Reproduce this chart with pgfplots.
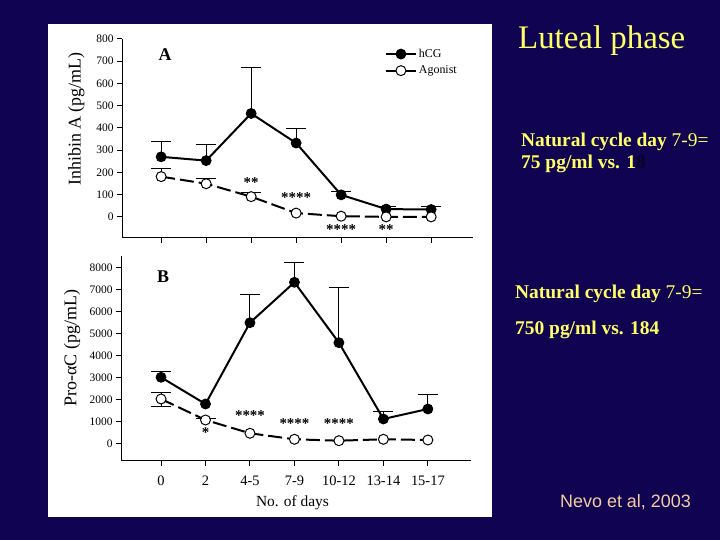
\documentclass[border=0pt]{standalone}
\usepackage{fontspec}
\setmainfont{Liberation Serif}
\newfontfamily\sansf{Liberation Sans}
\usepackage{pgfplots}
\pgfplotsset{compat=1.18}
\definecolor{navy}{RGB}{16,4,82}
\definecolor{slideyellow}{RGB}{255,255,102}
\definecolor{peach}{RGB}{245,205,160}
\definecolor{hiddencol}{RGB}{8,2,40}

% means
\pgfplotstableread{
x y
0 270
1 253
2 465
3 332
4 99
5 35
6 33
}\hcgA
\pgfplotstableread{
x y
0 181
1 149
2 91
3 17
4 3
5 0
6 0
}\agoA
\pgfplotstableread{
x y
0 3000
1 1786
2 5482
3 7318
4 4573
5 1105
6 1559
}\hcgB
\pgfplotstableread{
x y
0 2014
1 1059
2 455
3 182
4 118
5 182
6 150
}\agoB
% upper error bars (points that have one)
\pgfplotstableread{
x y e
0 270 70
1 253 73
2 465 205
3 332 65
4 99 15
5 35 12
6 33 12
}\errhcgA
\pgfplotstableread{
x y e
0 181 35
1 149 22
2 91 20
}\erragoA
\pgfplotstableread{
x y e
0 3000 255
2 5482 1260
3 7318 910
4 4573 2520
5 1105 360
6 1559 680
}\errhcgB
\pgfplotstableread{
x y e
0 2014 290
1 1059 80
}\erragoB
% lower error bar
\pgfplotstableread{
x y e
0 2014 350
}\erragoBlow

\tikzset{sigstar/.style={font=\bfseries\fontsize{15}{15}\selectfont, inner sep=0pt}}

\pgfplotsset{
  panel/.style={
    scale only axis,
    axis x line*=bottom, axis y line*=left,
    axis line style={line width=1bp,-},
    every tick/.style={line width=1bp,black},
    tick align=outside,
    major tick length=5bp,
    xtick={0,...,6},
    ticklabel style={font=\fontsize{11.5}{12}\selectfont},
    /pgf/number format/assume math mode=true,
    /pgf/number format/1000 sep={},
    clip=false,
    legend cell align=left,
    legend image code/.code={\draw[mark repeat=2,mark phase=2,#1] plot coordinates {(0bp,0bp) (15bp,0bp) (30bp,0bp)};},
  },
  hcg/.style={black, line width=2bp, mark=*, mark size=5bp, mark options={solid, fill=black, line width=0.8bp}},
  ago/.style={black, line width=2bp, dash pattern=on 14bp off 5bp, mark=*, mark size=5bp, mark options={solid, fill=white, draw=black, line width=1bp}},
  errs/.style={draw=none, mark=none, forget plot,
    /pgfplots/error bars/y dir=#1, /pgfplots/error bars/y explicit,
    /pgfplots/error bars/error bar style={draw=black, line width=1bp, solid},
    /pgfplots/error bars/error mark options={draw=black, rotate=90, line width=1bp, mark size=10bp}},
  errs/.default=plus,
}

\begin{document}
\begin{tikzpicture}[x=1bp,y=1bp]
\useasboundingbox (0,0) rectangle (720,540);
\fill[navy] (0,0) rectangle (720,540);
\fill[white] (48,23) rectangle (492,516);

% Panel A
\begin{axis}[panel, at={(122bp,302bp)}, anchor=south west,
  width=351bp, height=199bp,
  xmin=-0.87, xmax=6.93, ymin=-95, ymax=800,
  ytick={0,100,...,800}, xticklabels={},
  ylabel={Inhibin A (pg/mL)},
  ylabel style={at={(axis description cs:-0.13,0.598)}, anchor=center, font=\fontsize{18}{20}\selectfont},
  legend style={at={(0.74,0.97)}, anchor=north west, draw=none, fill=none, font=\fontsize{12}{13}\selectfont, row sep=3bp},
]
\addplot[errs] table[x=x,y=y,y error=e] {\errhcgA};
\addplot[errs] table[x=x,y=y,y error=e] {\erragoA};
\addplot[hcg] table[x=x,y=y] {\hcgA};
\addlegendentry{hCG}
\addplot[ago] table[x=x,y=y] {\agoA};
\addlegendentry{Agonist}
\node[sigstar] at (axis cs:2,156) {**};
\node[sigstar] at (axis cs:3,89) {****};
\node[sigstar] at (axis cs:4,-58) {****};
\node[sigstar] at (axis cs:5,-58) {**};
\end{axis}

% Panel B
\begin{axis}[panel, at={(121bp,79.3bp)}, anchor=south west,
  width=350bp, height=204.7bp,
  xmin=-0.9, xmax=6.97, ymin=-791, ymax=8514,
  ytick={0,1000,...,8000},
  xticklabels={0,2,4-5,7-9,10-12,13-14,15-17},
  xticklabel style={font=\fontsize{14.5}{15}\selectfont, yshift=-7bp},
  ylabel={Pro-αC (pg/mL)},
  ylabel style={at={(axis description cs:-0.14,0.55)}, anchor=center, font=\fontsize{18}{20}\selectfont},
  xlabel={No. of days},
  xlabel style={at={(axis description cs:0.49,-0.207)}, anchor=center, font=\fontsize{15.5}{17}\selectfont},
]
\addplot[errs] table[x=x,y=y,y error=e] {\errhcgB};
\addplot[errs] table[x=x,y=y,y error=e] {\erragoB};
\addplot[errs=minus] table[x=x,y=y,y error=e] {\erragoBlow};
\addplot[hcg] table[x=x,y=y] {\hcgB};
\addplot[ago] table[x=x,y=y] {\agoB};
\node[sigstar] at (axis cs:1,480) {*};
\node[sigstar] at (axis cs:2,1255) {****};
\node[sigstar] at (axis cs:3,909) {****};
\node[sigstar] at (axis cs:4,900) {****};
\end{axis}

\node[font=\bfseries\fontsize{18}{18}\selectfont] at (165,485) {A};
\node[font=\bfseries\fontsize{18}{18}\selectfont] at (163,263) {B};

% slide text
\node[anchor=base west, inner sep=0pt, text=slideyellow, font=\fontsize{33}{36}\selectfont] at (518,491) {Luteal phase};
\node[anchor=base west, inner sep=0pt, text=slideyellow, font=\fontsize{19.5}{22}\selectfont] at (521,393) {\textbf{Natural cycle day }7-9=};
\node[anchor=base west, inner sep=0pt, text=slideyellow, font=\bfseries\fontsize{19.5}{22}\selectfont] at (521,371) {75 pg/ml vs. 1\textcolor{hiddencol}{8}};
\node[anchor=base west, inner sep=0pt, text=slideyellow, font=\fontsize{19.5}{22}\selectfont] at (515,241) {\textbf{Natural cycle day }7-9=};
\node[anchor=base west, inner sep=0pt, text=slideyellow, font=\bfseries\fontsize{19.5}{22}\selectfont] at (515,205) {750 pg/ml vs. 184};
\node[anchor=base west, inner sep=0pt, text=peach, font=\sansf\fontsize{18}{20}\selectfont] at (560,32) {Nevo et al, 2003};
\end{tikzpicture}
\end{document}
